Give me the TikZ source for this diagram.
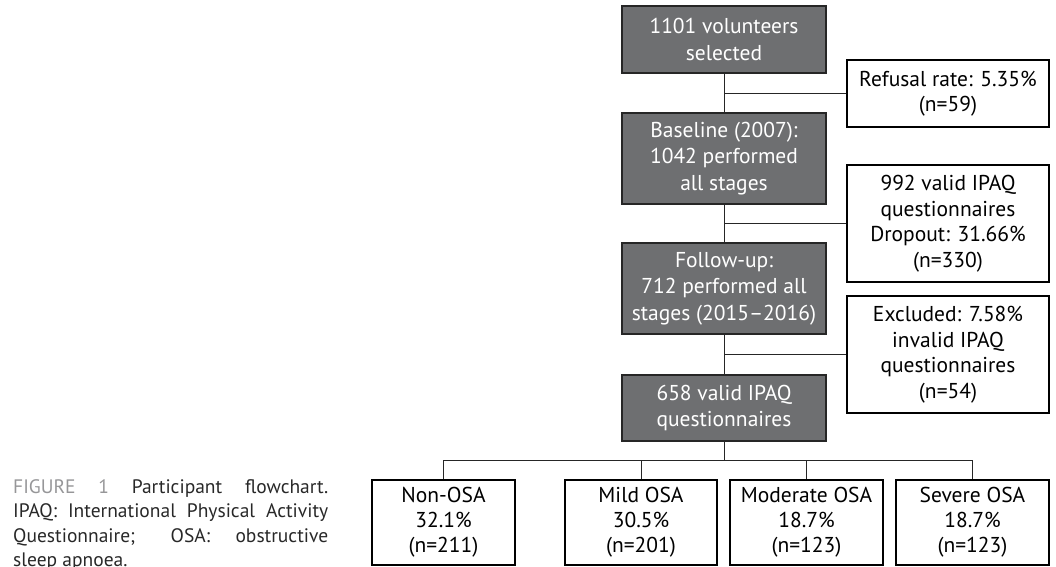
\documentclass[tikz,border=0pt]{standalone}
\usepackage{fontspec}
\setmainfont{PT Sans}
\usetikzlibrary{positioning}
\usetikzlibrary{calc}

\definecolor{boxgray}{RGB}{110,111,113}
\definecolor{capgray}{RGB}{150,150,152}
\definecolor{captext}{RGB}{40,40,40}

\tikzset{
  graybox/.style={draw=black!85, fill=boxgray, text=white, align=center,
    minimum width=204pt, inner sep=0pt, line width=1.2pt,
    font=\fontsize{21.5}{26.5}\selectfont},
  sidebox/.style={draw=black, fill=white, align=center, minimum width=202pt,
    inner sep=0pt, line width=1.1pt, font=\fontsize{21.5}{25.5}\selectfont},
  grpbox/.style={draw=black, fill=white, align=center, minimum height=85pt,
    inner sep=0pt, line width=1.1pt, font=\fontsize{21.5}{25}\selectfont},
  link/.style={line width=1pt, draw=black!85}
}

\begin{document}
\begin{tikzpicture}[x=1pt, y=-1pt, >=latex]
  \useasboundingbox (0,0) rectangle (1056,566);

  % main column
  \node[graybox, minimum height=67pt] (vol) at (724,39.5) {1101 volunteers\\selected};
  \node[graybox, minimum height=91pt] (base) at (724,158.5) {Baseline (2007):\\1042 performed\\all stages};
  \node[graybox, minimum height=91pt] (follow) at (724,288.5) {Follow-up:\\712 performed all\\stages (2015--2016)};
  \node[graybox, minimum height=66pt] (valid) at (724,408) {658 valid IPAQ\\questionnaires};

  % side boxes
  \node[sidebox, minimum height=67pt] (refusal) at (948,93.5) {Refusal rate: 5.35\%\\(n=59)};
  \node[sidebox, minimum height=117pt] (dropout) at (948,223.5) {992 valid IPAQ\\questionnaires\\Dropout: 31.66\%\\(n=330)};
  \node[sidebox, minimum height=117pt] (excl) at (948,354.5) {Excluded: 7.58\%\\invalid IPAQ\\questionnaires\\(n=54)};

  \draw[link] (vol) -- (base);
  \draw[link] (base) -- (follow);
  \draw[link] (follow) -- (valid);
  \draw[link] (refusal.west) -- (refusal.west -| vol.south);
  \draw[link] (dropout.west) -- (dropout.west -| base.south);
  \draw[link] (excl.west) -- (excl.west -| follow.south);

  % OSA groups
  \foreach \name/\cx/\w/\txt in {non/443.5/143/{Non-OSA\\32.1\%\\(n=211)},
      mild/641/152/{Mild OSA\\30.5\%\\(n=201)},
      mod/806.5/153/{Moderate OSA\\18.7\%\\(n=123)},
      sev/972.5/153/{Severe OSA\\18.7\%\\(n=123)}}
    \node[grpbox, minimum width=\w pt] (\name) at (\cx,522.5) {\txt};

  \coordinate (split) at (724,460);
  \draw[link] (valid) -- (split);
  \draw[link] (non.north) |- (split) -| (sev.north);
  \draw[link] (mild.north) -- (mild.north |- split);
  \draw[link] (mod.north) -- (mod.north |- split);

  % caption
  \node[anchor=base west, inner sep=0pt, text width=315pt, align=justify,
    text=captext, font=\fontsize{19.5}{24.5}\selectfont] (caption) at (13,493)
    {\textcolor{capgray}{FIGURE 1} Participant flowchart.\linebreak
     IPAQ: International Physical Activity\linebreak
     Questionnaire; OSA: obstructive\linebreak
     sleep apnoea.};
\end{tikzpicture}
\end{document}
